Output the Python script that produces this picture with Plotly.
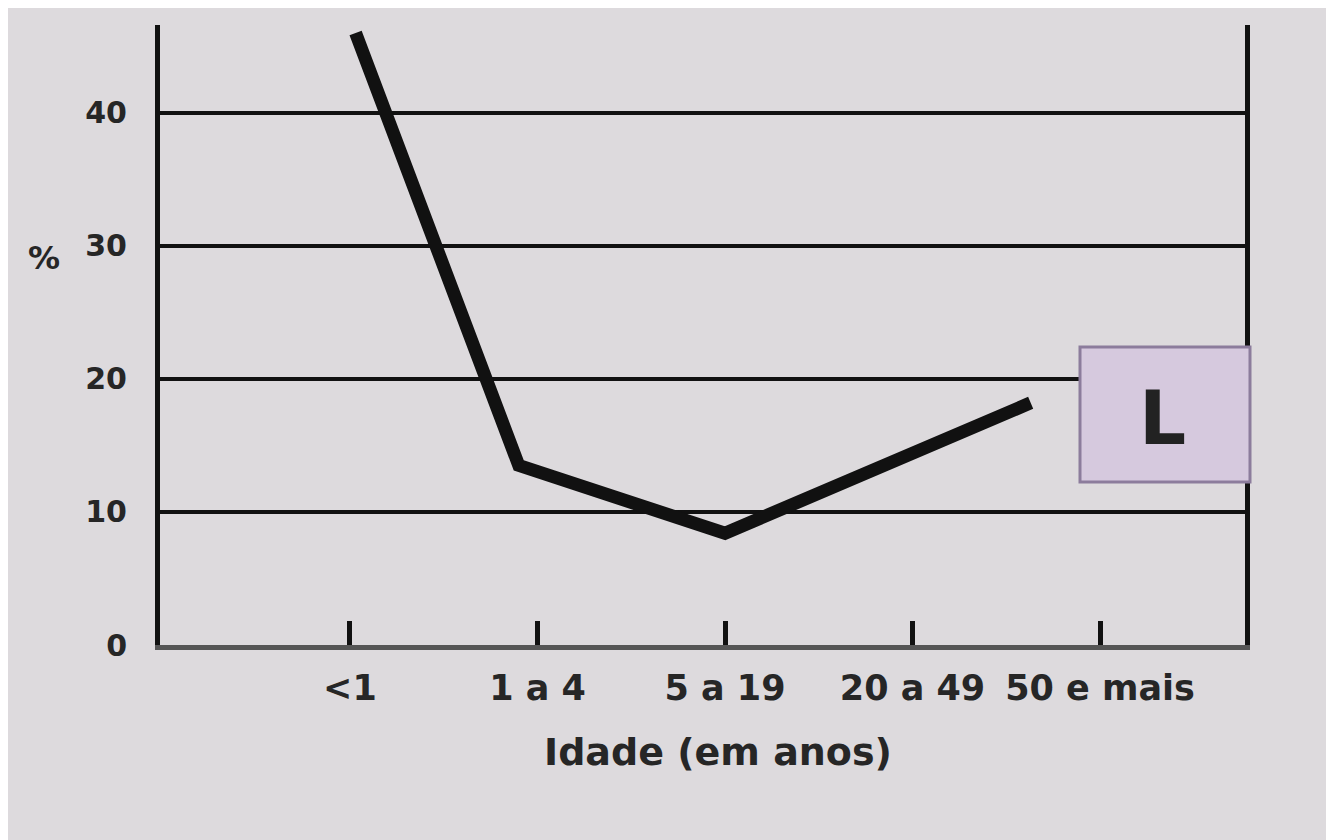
import plotly.graph_objects as go

# categorias de idade e pontos da curva (posição no eixo de categorias, %)
categorias = ["<1", "1 a 4", "5 a 19", "20 a 49", "50 e mais"]
pos_categorias = [0, 1, 2, 3, 4]
curva_x = [0.03, 0.9, 2.0, 3.63]
curva_y = [46.0, 13.5, 8.4, 18.2]
y_ticks = [0, 10, 20, 30, 40]

fonte = "DejaVu Sans"
fundo = "#dddadd"

# a página tem 8px de margem no body, compensados aqui
L, T, W, H = 152, 17, 1085, 620
OFF = 8


def px(x):
    return (x - OFF - L) / W


def py(y):
    return (T + OFF + H - y) / H


fig = go.Figure()

fig.add_trace(go.Scatter(
    x=curva_x, y=curva_y, mode="lines",
    line=dict(color="#111111", width=13),
    showlegend=False, hoverinfo="skip", cliponaxis=False,
))

fig.update_layout(
    width=1334, height=840,
    margin=dict(l=L, r=1334 - L - W, t=T, b=840 - T - H),
    paper_bgcolor=fundo, plot_bgcolor=fundo,
    font=dict(family=fonte, color="#262626"),
    xaxis=dict(
        range=[-1.013, 4.773],
        tickvals=pos_categorias, ticktext=categorias,
        ticks="inside", ticklen=24, tickwidth=5, tickcolor="#111111",
        tickfont=dict(size=35, family=fonte, weight="bold"),
        ticklabelstandoff=8,
        showline=True, linecolor="#555555", linewidth=5,
        showgrid=False, zeroline=False,
    ),
    yaxis=dict(
        range=[0, 46.6],
        tickvals=y_ticks, ticktext=[str(v) for v in y_ticks],
        ticks="",
        tickfont=dict(size=30, family=fonte, weight="bold"),
        ticklabelstandoff=22,
        showline=True, linecolor="#111111", linewidth=5, mirror=True,
        showgrid=True, gridcolor="#111111", gridwidth=4,
        zeroline=False,
    ),
    shapes=[dict(
        type="rect", xref="paper", yref="paper",
        x0=px(1080), x1=px(1250), y0=py(482), y1=py(347),
        fillcolor="#d6c9de", line=dict(color="#8c7c9c", width=3),
        layer="above",
    )],
    annotations=[
        dict(text="L", xref="paper", yref="paper",
             x=px(1188), y=py(418), showarrow=False,
             font=dict(size=74, family=fonte, weight="bold", color="#222222")),
        dict(text="Idade (em anos)", xref="paper", yref="paper",
             x=px(718), y=py(752), yanchor="middle", showarrow=False,
             font=dict(size=38, family=fonte, weight="bold")),
        dict(text="%", xref="paper", yref="paper",
             x=px(26), y=py(258), showarrow=False,
             font=dict(size=32, family=fonte, weight="bold")),
    ],
)

fig.write_html("out.html")
